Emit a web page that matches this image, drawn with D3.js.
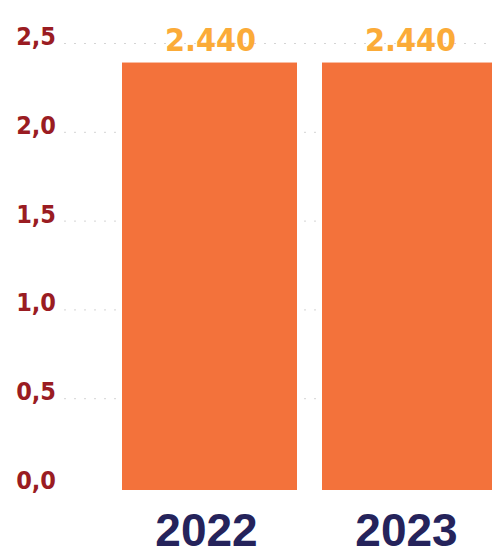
<!DOCTYPE html>
<html>
<head>
<meta charset="utf-8">
<script src="https://d3js.org/d3.v7.min.js"></script>
<style>
  body { margin: 0; background: #fff; }
  svg { display: block; }
</style>
</head>
<body>
<svg width="492" height="550"></svg>
<script>
  // values
  var years = ["2022", "2023"];
  var values = [2.39, 2.39];          // bar heights as drawn
  var valueLabels = ["2.440", "2.440"];
  var yTicks = [0, 0.5, 1.0, 1.5, 2.0, 2.5];
  var yTickLabels = ["0,0", "0,5", "1,0", "1,5", "2,0", "2,5"];

  var svg = d3.select("svg");

  var y = d3.scaleLinear()
    .domain([0, 2.5])
    .range([487, 43]);

  var x = d3.scaleBand()
    .domain(years)
    .range([122, 497])
    .paddingInner(0.125)
    .paddingOuter(0);

  // dotted grid lines
  svg.append("g").selectAll("line")
    .data(yTicks.filter(function (d) { return d > 0; }))
    .enter().append("line")
    .attr("x1", 64)
    .attr("x2", 492)
    .attr("y1", function (d) { return y(d) + 0.5; })
    .attr("y2", function (d) { return y(d) + 0.5; })
    .attr("stroke", "#d4d4d4")
    .attr("stroke-width", 1)
    .attr("stroke-dasharray", "2,8");

  // y labels
  svg.append("g").selectAll("text")
    .data(yTicks)
    .enter().append("text")
    .attr("x", 56)
    .attr("y", function (d) { return y(d) + 2; })
    .attr("text-anchor", "end")
    .attr("font-family", "DejaVu Sans Condensed, DejaVu Sans")
    .attr("font-stretch", "condensed")
    .attr("font-weight", "bold")
    .attr("font-size", 25)
    .attr("fill", "#9a1c22")
    .text(function (d, i) { return yTickLabels[i]; });

  // bars
  svg.append("g").selectAll("rect")
    .data(values)
    .enter().append("rect")
    .attr("x", function (d, i) { return x(years[i]); })
    .attr("y", function (d) { return y(d); })
    .attr("width", x.bandwidth())
    .attr("height", function (d) { return y(0) + 3 - y(d); })
    .attr("fill", "#f3723b");

  // value labels
  svg.append("g").selectAll("text")
    .data(values)
    .enter().append("text")
    .attr("x", function (d, i) { return x(years[i]) + x.bandwidth() / 2 + 1; })
    .attr("y", function (d) { return y(d) - 12; })
    .attr("text-anchor", "middle")
    .attr("font-family", "DejaVu Sans Condensed, DejaVu Sans")
    .attr("font-stretch", "condensed")
    .attr("font-weight", "bold")
    .attr("font-size", 32)
    .attr("fill", "#fbab38")
    .text(function (d, i) { return valueLabels[i]; });

  // year labels
  svg.append("g").selectAll("text")
    .data(years)
    .enter().append("text")
    .attr("x", function (d) { return x(d) + x.bandwidth() / 2 - 3; })
    .attr("y", 546)
    .attr("text-anchor", "middle")
    .attr("font-family", "Liberation Sans, Arial, sans-serif")
    .attr("font-weight", "bold")
    .attr("font-size", 46)
    .attr("fill", "#25235b")
    .text(function (d) { return d; });
</script>
</body>
</html>
